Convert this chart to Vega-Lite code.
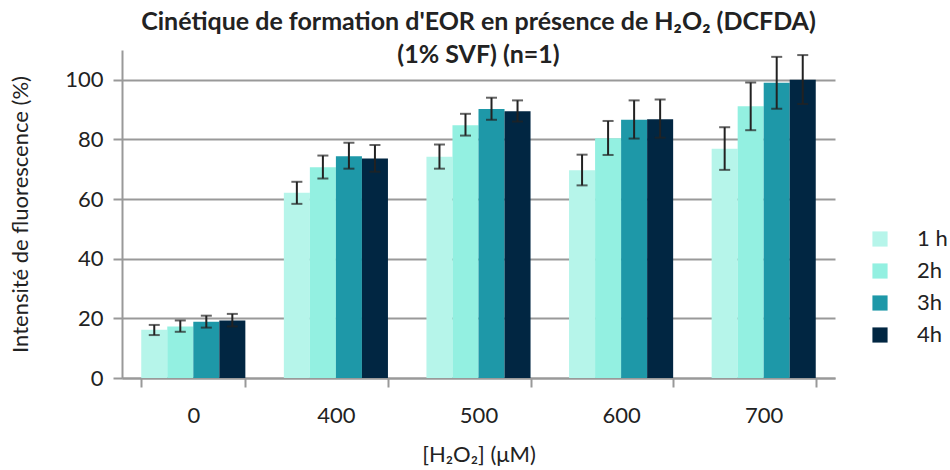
{
  "$schema": "https://vega.github.io/schema/vega-lite/v6.json",
  "width": 713,
  "height": 328,
  "autosize": {"type": "none"},
  "padding": {"left": 122, "top": 50, "right": 115, "bottom": 92},
  "background": "white",
  "title": {
    "text": ["Cinétique de formation d'EOR en présence de H₂O₂ (DCFDA)", "(1% SVF) (n=1)"],
    "font": "Lato",
    "fontSize": 25,
    "fontWeight": "bold",
    "color": "#222222",
    "anchor": "middle",
    "offset": -43,
    "lineHeight": 33,
    "baseline": "bottom"
  },
  "config": {
    "view": {"stroke": null},
    "font": "Lato"
  },
  "data": {
    "values": [
      {"conc": "0", "time": "1 h", "value": 16.2, "lo": 14.4, "hi": 17.8},
      {"conc": "0", "time": "2h", "value": 17.3, "lo": 15.5, "hi": 19.3},
      {"conc": "0", "time": "3h", "value": 18.9, "lo": 16.9, "hi": 20.9},
      {"conc": "0", "time": "4h", "value": 19.3, "lo": 17.3, "hi": 21.5},
      {"conc": "400", "time": "1 h", "value": 62.1, "lo": 58.4, "hi": 65.8},
      {"conc": "400", "time": "2h", "value": 70.7, "lo": 66.9, "hi": 74.6},
      {"conc": "400", "time": "3h", "value": 74.4, "lo": 70.2, "hi": 78.9},
      {"conc": "400", "time": "4h", "value": 73.6, "lo": 69.2, "hi": 78.1},
      {"conc": "500", "time": "1 h", "value": 74.2, "lo": 70.2, "hi": 78.3},
      {"conc": "500", "time": "2h", "value": 84.8, "lo": 81.3, "hi": 88.6},
      {"conc": "500", "time": "3h", "value": 90.2, "lo": 86.6, "hi": 94.0},
      {"conc": "500", "time": "4h", "value": 89.5, "lo": 86.0, "hi": 93.1},
      {"conc": "600", "time": "1 h", "value": 69.7, "lo": 64.6, "hi": 74.9},
      {"conc": "600", "time": "2h", "value": 80.4, "lo": 74.8, "hi": 86.2},
      {"conc": "600", "time": "3h", "value": 86.6, "lo": 80.3, "hi": 93.1},
      {"conc": "600", "time": "4h", "value": 86.8, "lo": 80.6, "hi": 93.4},
      {"conc": "700", "time": "1 h", "value": 76.9, "lo": 69.8, "hi": 84.1},
      {"conc": "700", "time": "2h", "value": 91.1, "lo": 83.1, "hi": 99.1},
      {"conc": "700", "time": "3h", "value": 99.0, "lo": 90.3, "hi": 107.7},
      {"conc": "700", "time": "4h", "value": 100.0, "lo": 91.9, "hi": 108.3}
    ]
  },
  "encoding": {
    "x": {
      "field": "conc",
      "type": "nominal",
      "sort": null,
      "scale": {"paddingInner": 0.27, "paddingOuter": 0.135},
      "axis": {
        "title": "[H₂O₂] (μM)",
        "titleFont": "Lato",
        "titleFontSize": 22,
        "titleFontWeight": "normal",
        "titleColor": "#222222",
        "titlePadding": 18,
        "labelFontSize": 22,
        "labelColor": "#222222",
        "labelAngle": 0,
        "labelPadding": 18,
        "domainColor": "#999999",
        "domainWidth": 2,
        "tickColor": "#999999",
        "tickWidth": 2,
        "tickSize": 9,
        "tickBand": "extent"
      }
    },
    "xOffset": {"field": "time", "type": "nominal", "sort": ["1 h", "2h", "3h", "4h"]}
  },
  "layer": [
    {
      "mark": {"type": "bar"},
      "encoding": {
        "y": {
          "field": "value",
          "type": "quantitative",
          "scale": {"domain": [0, 110], "nice": false},
          "axis": {
            "title": "Intensité de fluorescence (%)",
            "titleFont": "Lato",
            "titleFontSize": 22,
            "titleFontWeight": "normal",
            "titleColor": "#222222",
            "titlePadding": 32,
            "values": [0, 20, 40, 60, 80, 100],
            "labelFontSize": 22,
            "labelColor": "#222222",
            "labelPadding": 10,
            "domainColor": "#999999",
            "domainWidth": 2,
            "tickColor": "#999999",
            "tickWidth": 2,
            "tickSize": 9,
            "gridColor": "#999999",
            "gridWidth": 2
          }
        },
        "color": {
          "field": "time",
          "type": "nominal",
          "sort": ["1 h", "2h", "3h", "4h"],
          "scale": {"domain": ["1 h", "2h", "3h", "4h"], "range": ["#b6f5ea", "#93f0e1", "#1e98a8", "#012642"]},
          "legend": {
            "title": null,
            "orient": "none",
            "legendX": 747,
            "legendY": 178,
            "symbolType": "square",
            "symbolSize": 230,
            "symbolStrokeWidth": 0,
            "labelFontSize": 22,
            "labelColor": "#222222",
            "labelOffset": 26,
            "rowPadding": 10
          }
        }
      }
    },
    {
      "mark": {"type": "rule", "color": "#222222", "strokeWidth": 2},
      "encoding": {
        "y": {"field": "lo", "type": "quantitative"},
        "y2": {"field": "hi"}
      }
    },
    {
      "mark": {"type": "tick", "color": "#222222", "thickness": 2, "size": 11},
      "encoding": {
        "y": {"field": "lo", "type": "quantitative"}
      }
    },
    {
      "mark": {"type": "tick", "color": "#222222", "thickness": 2, "size": 11},
      "encoding": {
        "y": {"field": "hi", "type": "quantitative"}
      }
    }
  ]
}
